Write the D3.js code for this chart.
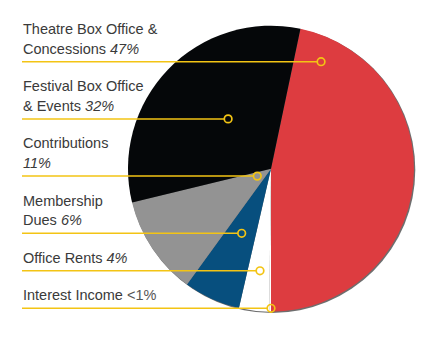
<!DOCTYPE html>
<html>
<head>
<meta charset="utf-8">
<script src="https://cdn.jsdelivr.net/npm/d3@7"></script>
<style>
  html, body { margin: 0; padding: 0; background: #fff; }
  svg { display: block; }
</style>
</head>
<body>
<div id="chart"></div>
<script>
// ---- data ----
const categories = ["Theatre Box Office & Concessions", "Interest Income", "Office Rents", "Membership Dues", "Contributions", "Festival Box Office & Events"];
const values = [46.7, 0.2, 3.4, 6.4, 11.2, 32.1];
const sliceColors = ["#dd3c40", "#ffffff", "#ffffff", "#074f7e", "#939393", "#050709"];

// label rows, top to bottom (index into categories)
const labelOrder = [0, 5, 4, 3, 2, 1];
const labelLines = [
  ["Theatre Box Office &", "Concessions "],
  ["Festival Box Office", "& Events "],
  ["Contributions", ""],
  ["Membership", "Dues "],
  ["Office Rents "],
  ["Interest Income "]
];
const pctLabels = ["47%", "32%", "11%", "6%", "4%", "<1%"];
const pctItalic = [true, true, true, true, true, false];

// ---- layout ----
const W = 440, H = 337;
const cx = 271, cy = 168.7, R = 143;
const textX = 23, ruleX0 = 22;
const firstRule = 61.7, oneLineStep = 37.5, lineH = 19.7, ruleGap = 8;
// marker horizontal offsets from pie centre, in units of radius
const markerDx = [0.35, -0.30, -0.096, -0.205, -0.077, 0];
const yellow = "#f3c414";

const svg = d3.select("#chart").append("svg").attr("width", W).attr("height", H);

const pie = d3.pie().sort(null).value(d => d)
  .startAngle(Math.PI - 2 * Math.PI * values[0] / d3.sum(values));
pie.endAngle(pie.startAngle()() + 2 * Math.PI);
const arcs = pie(values);
const arc = d3.arc().innerRadius(0).outerRadius(R);

const g = svg.append("g").attr("transform", `translate(${cx},${cy})`);
// soft shadow edge
g.append("circle").attr("cx", 1).attr("cy", 1).attr("r", R + 0.3).attr("fill", "#6e6e6e");
g.selectAll("path.slice").data(arcs).join("path")
  .attr("class", "slice")
  .attr("d", arc)
  .attr("fill", (d, i) => sliceColors[i]);

// rule positions
const rules = [];
let y = firstRule;
labelLines.forEach((lines, i) => {
  if (i > 0) y += oneLineStep + lineH * (lines.length - 1);
  rules.push(y);
});

const labels = svg.append("g")
  .attr("font-family", "'Liberation Sans', Arial, Helvetica, sans-serif")
  .attr("font-size", 14.5)
  .attr("fill", "#3a3a3a");

labelLines.forEach((lines, i) => {
  const ruleY = rules[i];
  const lastBase = ruleY - ruleGap;
  lines.forEach((ln, j) => {
    const base = lastBase - lineH * (lines.length - 1 - j);
    const t = labels.append("text").attr("x", textX).attr("y", base);
    if (ln) t.append("tspan").text(ln);
    if (j === lines.length - 1) {
      t.append("tspan")
        .attr("font-style", pctItalic[i] ? "italic" : "normal")
        .attr("fill", pctItalic[i] ? "#3a3a3a" : "#555")
        .text(pctLabels[i]);
    }
  });
  const mx = cx + markerDx[i] * R;
  svg.append("line")
    .attr("x1", ruleX0).attr("x2", mx - 3.8)
    .attr("y1", ruleY).attr("y2", ruleY)
    .attr("stroke", yellow).attr("stroke-width", 1.5);
  svg.append("circle")
    .attr("cx", mx).attr("cy", ruleY).attr("r", 3.8)
    .attr("fill", "none").attr("stroke", yellow).attr("stroke-width", 1.7);
});
</script>
</body>
</html>
